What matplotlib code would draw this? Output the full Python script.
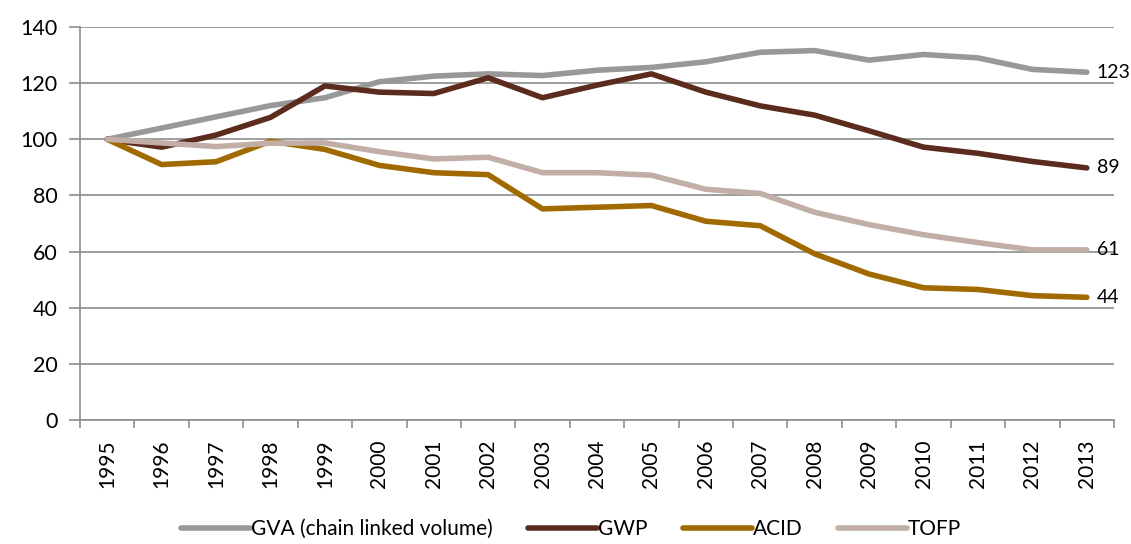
import matplotlib
matplotlib.use("Agg")
import matplotlib.pyplot as plt
import numpy as np

plt.rcParams['font.family'] = ['Lato', 'DejaVu Sans']

years = [str(y) for y in range(1995, 2014)]
gva = [100, 104, 108, 112, 114.8, 120.5, 122.5, 123.3, 122.7, 124.6,
       125.6, 127.6, 131, 131.6, 128.2, 130.2, 129, 124.9, 123.9]
gwp = [100, 97.2, 101.5, 107.8, 119, 116.8, 116.3, 121.9, 114.8, 119.3,
       123.3, 116.8, 111.9, 108.6, 103, 97.2, 95, 92.1, 89.8]
acid = [100, 91, 92, 99.3, 96.4, 90.7, 88.1, 87.4, 75.2, 75.8,
        76.4, 70.8, 69.2, 59.2, 52, 47.1, 46.5, 44.3, 43.7]
tofp = [100, 98.7, 97.4, 98.6, 98.7, 95.6, 93, 93.6, 88.1, 88.1,
        87.2, 82.2, 80.7, 74, 69.6, 66, 63.2, 60.6, 60.6]
end_labels = ['123', '89', '44', '61']

series = [
    ("GVA (chain linked volume)", gva, "#989898"),
    ("GWP", gwp, "#5b2c1e"),
    ("ACID", acid, "#a06a00"),
    ("TOFP", tofp, "#c1aea7"),
]

fig = plt.figure(figsize=(11.31, 5.44), dpi=100)
ax = fig.add_axes([80 / 1131, 1 - 420 / 544, (1114 - 80) / 1131, (420 - 27) / 544])

x = np.arange(len(years))
for (name, vals, col), lab in zip(series, end_labels):
    ax.plot(x, vals, color=col, lw=4, label=name, solid_capstyle='round',
            solid_joinstyle='round')
    ax.annotate(lab, (x[-1], vals[-1]), xytext=(7, 0), textcoords='offset points',
                va='center', ha='left', fontsize=14, color='black',
                annotation_clip=False)

ax.set_xlim(-0.5, len(years) - 0.5)
ax.set_ylim(0, 140)
ax.set_yticks(range(0, 141, 20))
ax.grid(axis='y', color='#8c8c8c', lw=1.2)
ax.set_axisbelow(True)

ax.set_xticks(x)
ax.set_xticklabels(years, rotation=90, fontsize=15)
ax.set_xticks(np.arange(-0.5, len(years)), minor=True)
ax.tick_params(axis='x', which='major', length=0, pad=14)
ax.tick_params(axis='x', which='minor', length=6, color='#8c8c8c', width=1.2)
ax.tick_params(axis='y', length=8, color='#8c8c8c', width=1.2, labelsize=15.5, pad=8)

for side in ['top', 'right']:
    ax.spines[side].set_visible(False)
for side in ['left', 'bottom']:
    ax.spines[side].set_color('#8c8c8c')
    ax.spines[side].set_linewidth(1.2)

ax.legend(loc='lower center', bbox_to_anchor=(0.475, -0.308), ncol=4, frameon=False,
          fontsize=15, handlelength=3.3, handletextpad=0.05, columnspacing=1.7,
          borderaxespad=0, borderpad=0.1)

fig.savefig("out.png", dpi=100)
